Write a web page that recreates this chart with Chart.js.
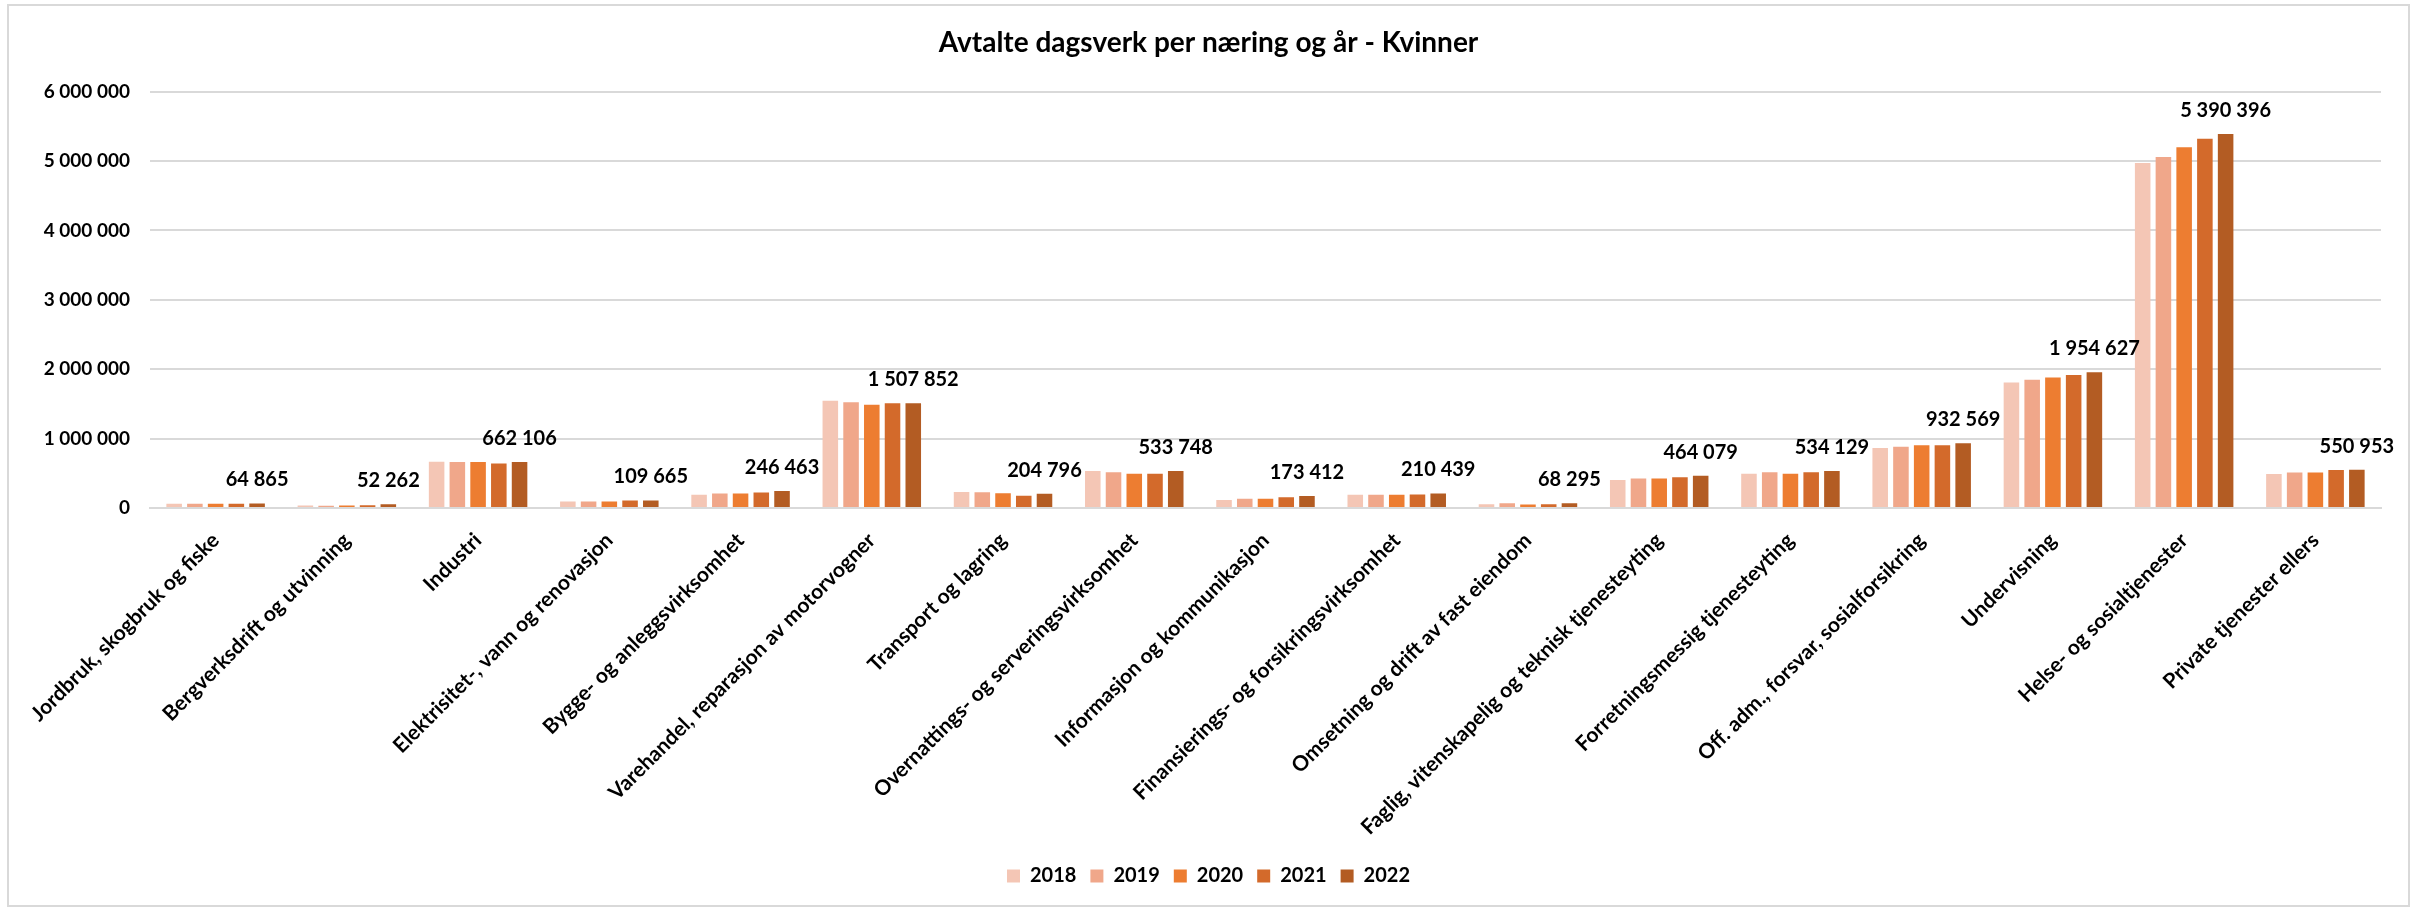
<!DOCTYPE html>
<html>
<head>
<meta charset="utf-8">
<title>Avtalte dagsverk per næring og år - Kvinner</title>
<script src="https://cdn.jsdelivr.net/npm/chart.js"></script>
<style>
  html, body { margin: 0; padding: 0; background: #fff; }
  #wrap { position: relative; width: 2417px; height: 908px; }
</style>
</head>
<body>
<div id="wrap"><canvas id="chart"></canvas></div>
<script>
var categories = [
  'Jordbruk, skogbruk og fiske',
  'Bergverksdrift og utvinning',
  'Industri',
  'Elektrisitet-, vann og renovasjon',
  'Bygge- og anleggsvirksomhet',
  'Varehandel, reparasjon av motorvogner',
  'Transport og lagring',
  'Overnattings- og serveringsvirksomhet',
  'Informasjon og kommunikasjon',
  'Finansierings- og forsikringsvirksomhet',
  'Omsetning og drift av fast eiendom',
  'Faglig, vitenskapelig og teknisk tjenesteyting',
  'Forretningsmessig tjenesteyting',
  'Off. adm., forsvar, sosialforsikring',
  'Undervisning',
  'Helse- og sosialtjenester',
  'Private tjenester ellers'
];

var years = ['2018', '2019', '2020', '2021', '2022'];

var values2018 = [60000, 35000, 665000, 95000, 190000, 1544000, 230000, 533000, 116000, 190000, 55000, 403000, 494000, 863000, 1808000, 4970000, 491000];
var values2019 = [62000, 34000, 663000, 93000, 208000, 1525000, 228000, 515000, 135000, 192000, 70000, 424000, 514000, 883000, 1847000, 5057000, 511000];
var values2020 = [63000, 36000, 662000, 92000, 208000, 1486000, 214000, 495000, 135000, 191000, 52000, 424000, 494000, 903000, 1881000, 5198000, 511000];
var values2021 = [62000, 38000, 640000, 108000, 225000, 1510000, 178000, 495000, 155000, 193000, 54000, 444000, 514000, 903000, 1915000, 5322000, 548000];
var values2022 = [64865, 52262, 662106, 109665, 246463, 1507852, 204796, 533748, 173412, 210439, 68295, 464079, 534129, 932569, 1954627, 5390396, 550953];

var yTicks = [0, 1000000, 2000000, 3000000, 4000000, 5000000, 6000000];

var colors = ['#F4C6B5', '#F0A78A', '#ED7D31', '#D36A2B', '#B35C23'];
var FONT = 'Lato, "Open Sans", sans-serif';

function fmt(n) {
  return String(Math.round(n)).replace(/\B(?=(\d{3})+(?!\d))/g, ' ');
}

var seriesValues = [values2018, values2019, values2020, values2021, values2022];

var frame = {
  id: 'frame',
  beforeDraw: function (chart) {
    var ctx = chart.ctx;
    ctx.save();
    ctx.fillStyle = '#fff';
    ctx.fillRect(0, 0, chart.width, chart.height);
    ctx.strokeStyle = '#d9d9d9';
    ctx.lineWidth = 2;
    ctx.strokeRect(8, 5, 2401, 901);
    ctx.restore();
  }
};

// value labels on the last year only
var lastLabels = {
  id: 'lastLabels',
  afterDatasetsDraw: function (chart) {
    var idx = chart.data.datasets.length - 1;
    var meta = chart.getDatasetMeta(idx);
    var ctx = chart.ctx;
    ctx.save();
    ctx.font = 'bold 20px ' + FONT;
    ctx.fillStyle = '#000';
    ctx.textAlign = 'center';
    ctx.textBaseline = 'alphabetic';
    meta.data.forEach(function (bar, i) {
      ctx.fillText(fmt(chart.data.datasets[idx].data[i]), bar.x, bar.y - 17);
    });
    ctx.restore();
  }
};

new Chart(document.getElementById('chart'), {
  type: 'bar',
  data: {
    labels: categories,
    datasets: years.map(function (y, i) {
      return {
        label: y,
        data: seriesValues[i],
        backgroundColor: colors[i],
        borderWidth: 0,
        categoryPercentage: 0.79,
        barPercentage: 0.75
      };
    })
  },
  options: {
    responsive: true,
    maintainAspectRatio: false,
    animation: false,
    layout: { padding: { left: 36, right: 36, top: 4, bottom: 12 } },
    plugins: {
      title: {
        display: true,
        text: 'Avtalte dagsverk per næring og år - Kvinner',
        color: '#000',
        font: { family: FONT, size: 28, weight: 'bold' },
        padding: { top: 22, bottom: 32 }
      },
      legend: {
        position: 'bottom',
        labels: {
          color: '#000',
          font: { family: FONT, size: 20, weight: 'bold' },
          boxWidth: 13,
          boxHeight: 13,
          padding: 14
        }
      },
      tooltip: { enabled: false }
    },
    scales: {
      x: {
        grid: { display: false },
        border: { display: true, color: '#d9d9d9', width: 2 },
        ticks: {
          color: '#000',
          font: { family: FONT, size: 21, weight: 'bold' },
          maxRotation: 45,
          minRotation: 45,
          autoSkip: false,
          padding: 12
        },
        afterFit: function (scale) { scale.height = 344; }
      },
      y: {
        min: 0,
        max: 6000000,
        afterBuildTicks: function (scale) {
          scale.ticks = yTicks.map(function (v) { return { value: v }; });
        },
        grid: { color: '#d9d9d9', lineWidth: 2, drawTicks: false },
        border: { display: false },
        ticks: {
          color: '#000',
          font: { family: FONT, size: 19, weight: 'bold' },
          padding: 20,
          callback: function (v) { return fmt(v); }
        },
        afterFit: function (scale) { scale.width = 114; }
      }
    }
  },
  plugins: [frame, lastLabels]
});
</script>
</body>
</html>
